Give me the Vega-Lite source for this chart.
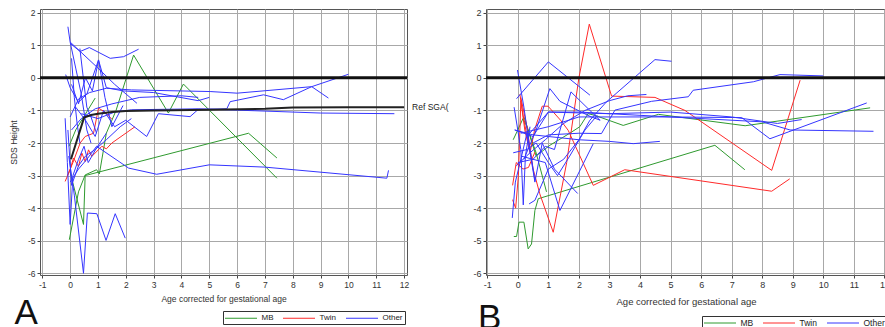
{
  "$schema": "https://vega.github.io/schema/vega-lite/v6.json",
  "padding": {"left": 8, "top": 8, "right": 0, "bottom": 0},
  "config": {
    "font": "Liberation Sans",
    "view": {"stroke": "#555", "strokeWidth": 1},
    "axis": {"grid": true, "gridColor": "#a8a8a8", "gridWidth": 1, "domain": false, "tickSize": 3, "tickColor": "#444", "labelColor": "#333", "titleColor": "#333", "titleFontWeight": "normal", "labelPadding": 2, "labelFlush": false, "labelOverlap": false, "labelExpr": "'' + datum.value"}
  },
  "datasets": {
    "a": [
      {"id":"g1","g":"MB","x":0.0,"y":-2.9},{"id":"g1","g":"MB","x":0.48,"y":-4.5},{"id":"g1","g":"MB","x":0.54,"y":-3.0},{"id":"g1","g":"MB","x":6.41,"y":-1.7},{"id":"g1","g":"MB","x":7.43,"y":-2.46},
      {"id":"g2","g":"MB","x":-0.03,"y":-4.97},{"id":"g2","g":"MB","x":0.3,"y":-3.5},{"id":"g2","g":"MB","x":0.54,"y":-2.98},{"id":"g2","g":"MB","x":0.95,"y":-2.82},{"id":"g2","g":"MB","x":1.05,"y":-2.95},{"id":"g2","g":"MB","x":1.3,"y":-1.7},{"id":"g2","g":"MB","x":1.65,"y":-1.0},{"id":"g2","g":"MB","x":2.0,"y":-0.05},{"id":"g2","g":"MB","x":2.28,"y":0.7},{"id":"g2","g":"MB","x":3.53,"y":-1.08},{"id":"g2","g":"MB","x":4.07,"y":-0.19},{"id":"g2","g":"MB","x":7.43,"y":-3.08},
      {"id":"g3","g":"MB","x":-0.04,"y":-2.1},{"id":"g3","g":"MB","x":0.2,"y":-1.6},{"id":"g3","g":"MB","x":0.9,"y":-0.62},
      {"id":"r1","g":"Twin","x":-0.18,"y":-3.18},{"id":"r1","g":"Twin","x":0.0,"y":-2.82},{"id":"r1","g":"Twin","x":0.12,"y":-2.46},{"id":"r1","g":"Twin","x":0.3,"y":-2.72},{"id":"r1","g":"Twin","x":0.42,"y":-2.31},{"id":"r1","g":"Twin","x":0.54,"y":-2.57},{"id":"r1","g":"Twin","x":0.66,"y":-2.21},{"id":"r1","g":"Twin","x":0.78,"y":-2.41},{"id":"r1","g":"Twin","x":1.14,"y":-2.1},{"id":"r1","g":"Twin","x":1.3,"y":-2.18},{"id":"r1","g":"Twin","x":1.5,"y":-2.0},{"id":"r1","g":"Twin","x":2.33,"y":-1.5},
      {"id":"r2","g":"Twin","x":-0.1,"y":-3.0},{"id":"r2","g":"Twin","x":0.1,"y":-2.6},{"id":"r2","g":"Twin","x":0.36,"y":-2.0},{"id":"r2","g":"Twin","x":0.54,"y":-1.8},{"id":"r2","g":"Twin","x":0.84,"y":-1.7},{"id":"r2","g":"Twin","x":1.02,"y":-0.93},{"id":"r2","g":"Twin","x":1.25,"y":-1.05},{"id":"r2","g":"Twin","x":1.5,"y":-1.27},
      {"id":"b1","g":"Other","x":-0.08,"y":1.57},{"id":"b1","g":"Other","x":0.0,"y":1.1},{"id":"b1","g":"Other","x":0.2,"y":0.3},{"id":"b1","g":"Other","x":0.4,"y":-0.5},{"id":"b1","g":"Other","x":0.6,"y":-1.6},{"id":"b1","g":"Other","x":0.75,"y":-2.0},
      {"id":"b2","g":"Other","x":0.0,"y":1.06},{"id":"b2","g":"Other","x":0.36,"y":0.81},{"id":"b2","g":"Other","x":0.69,"y":0.93},{"id":"b2","g":"Other","x":1.44,"y":0.6},{"id":"b2","g":"Other","x":1.92,"y":0.65},{"id":"b2","g":"Other","x":2.46,"y":0.88},
      {"id":"b3","g":"Other","x":0.0,"y":1.1},{"id":"b3","g":"Other","x":1.0,"y":0.3},{"id":"b3","g":"Other","x":1.6,"y":-0.2},{"id":"b3","g":"Other","x":2.4,"y":-0.78},
      {"id":"b4","g":"Other","x":-0.16,"y":0.1},{"id":"b4","g":"Other","x":0.0,"y":-0.3},{"id":"b4","g":"Other","x":0.3,"y":-0.75},{"id":"b4","g":"Other","x":0.6,"y":-0.5},{"id":"b4","g":"Other","x":1.02,"y":0.55},{"id":"b4","g":"Other","x":1.3,"y":-0.3},{"id":"b4","g":"Other","x":1.9,"y":-0.4},{"id":"b4","g":"Other","x":3.0,"y":-0.45},{"id":"b4","g":"Other","x":4.6,"y":-0.7},{"id":"b4","g":"Other","x":5.0,"y":-0.6},
      {"id":"b5","g":"Other","x":0.0,"y":-1.2},{"id":"b5","g":"Other","x":0.3,"y":-0.65},{"id":"b5","g":"Other","x":0.7,"y":-0.45},{"id":"b5","g":"Other","x":1.3,"y":-0.32},{"id":"b5","g":"Other","x":2.2,"y":-0.37},{"id":"b5","g":"Other","x":5.03,"y":-0.42},{"id":"b5","g":"Other","x":6.0,"y":-0.47},{"id":"b5","g":"Other","x":8.68,"y":-0.27},{"id":"b5","g":"Other","x":9.28,"y":-0.62},
      {"id":"b6","g":"Other","x":0.05,"y":-1.6},{"id":"b6","g":"Other","x":0.4,"y":-1.25},{"id":"b6","g":"Other","x":0.9,"y":-0.95},{"id":"b6","g":"Other","x":1.5,"y":-0.8},{"id":"b6","g":"Other","x":2.5,"y":-0.6},{"id":"b6","g":"Other","x":4.0,"y":-0.55},{"id":"b6","g":"Other","x":4.6,"y":-0.6},
      {"id":"b7","g":"Other","x":0.2,"y":-0.9},{"id":"b7","g":"Other","x":0.55,"y":-1.3},{"id":"b7","g":"Other","x":0.9,"y":-1.8},{"id":"b7","g":"Other","x":1.2,"y":-1.0},{"id":"b7","g":"Other","x":1.6,"y":-1.5},{"id":"b7","g":"Other","x":2.0,"y":-1.3},{"id":"b7","g":"Other","x":2.75,"y":-1.8},{"id":"b7","g":"Other","x":3.17,"y":-1.1},{"id":"b7","g":"Other","x":4.31,"y":-1.19},{"id":"b7","g":"Other","x":4.6,"y":-0.97},{"id":"b7","g":"Other","x":5.63,"y":-0.95},{"id":"b7","g":"Other","x":5.75,"y":-0.73},{"id":"b7","g":"Other","x":6.95,"y":-0.52},{"id":"b7","g":"Other","x":7.66,"y":-0.67},{"id":"b7","g":"Other","x":8.68,"y":-0.27},{"id":"b7","g":"Other","x":10.0,"y":0.11},
      {"id":"b8","g":"Other","x":0.4,"y":-1.1},{"id":"b8","g":"Other","x":1.0,"y":-1.25},{"id":"b8","g":"Other","x":1.6,"y":-1.05},{"id":"b8","g":"Other","x":2.2,"y":-0.98},{"id":"b8","g":"Other","x":4.6,"y":-0.95},{"id":"b8","g":"Other","x":7.0,"y":-1.02},{"id":"b8","g":"Other","x":9.0,"y":-1.08},{"id":"b8","g":"Other","x":11.65,"y":-1.1},
      {"id":"b9","g":"Other","x":0.0,"y":-3.2},{"id":"b9","g":"Other","x":0.3,"y":-2.8},{"id":"b9","g":"Other","x":0.6,"y":-2.5},{"id":"b9","g":"Other","x":0.95,"y":-2.1},{"id":"b9","g":"Other","x":2.1,"y":-2.77},{"id":"b9","g":"Other","x":3.11,"y":-2.96},{"id":"b9","g":"Other","x":5.0,"y":-2.67},{"id":"b9","g":"Other","x":7.0,"y":-2.74},{"id":"b9","g":"Other","x":11.38,"y":-3.08},{"id":"b9","g":"Other","x":11.44,"y":-2.84},
      {"id":"b10","g":"Other","x":-0.05,"y":-2.4},{"id":"b10","g":"Other","x":0.15,"y":-3.6},{"id":"b10","g":"Other","x":0.48,"y":-6.0},{"id":"b10","g":"Other","x":0.62,"y":-4.15},{"id":"b10","g":"Other","x":0.96,"y":-4.17},{"id":"b10","g":"Other","x":1.29,"y":-4.99},{"id":"b10","g":"Other","x":1.62,"y":-4.17},{"id":"b10","g":"Other","x":1.98,"y":-4.92},
      {"id":"b11","g":"Other","x":-0.18,"y":-1.24},{"id":"b11","g":"Other","x":-0.1,"y":-2.6},{"id":"b11","g":"Other","x":0.0,"y":-4.5},{"id":"b11","g":"Other","x":0.1,"y":-3.0},{"id":"b11","g":"Other","x":0.3,"y":-2.5},{"id":"b11","g":"Other","x":0.5,"y":-2.1},{"id":"b11","g":"Other","x":0.65,"y":-2.6},{"id":"b11","g":"Other","x":0.95,"y":-2.15},{"id":"b11","g":"Other","x":1.3,"y":-1.7},
      {"id":"b12","g":"Other","x":-0.08,"y":-1.6},{"id":"b12","g":"Other","x":0.05,"y":-3.3},{"id":"b12","g":"Other","x":0.3,"y":-2.7},{"id":"b12","g":"Other","x":0.55,"y":-2.4},{"id":"b12","g":"Other","x":0.9,"y":-2.2},{"id":"b12","g":"Other","x":1.3,"y":-1.9},{"id":"b12","g":"Other","x":1.8,"y":-1.5},{"id":"b12","g":"Other","x":2.2,"y":-1.25},
      {"id":"b13","g":"Other","x":0.05,"y":-0.2},{"id":"b13","g":"Other","x":0.3,"y":-0.8},{"id":"b13","g":"Other","x":0.55,"y":0.0},{"id":"b13","g":"Other","x":0.8,"y":-0.4},{"id":"b13","g":"Other","x":1.02,"y":0.55},{"id":"b13","g":"Other","x":1.25,"y":-0.6},{"id":"b13","g":"Other","x":1.5,"y":-1.5},{"id":"b13","g":"Other","x":1.9,"y":-0.85},
      {"id":"b14","g":"Other","x":0.05,"y":0.6},{"id":"b14","g":"Other","x":0.15,"y":-0.6},{"id":"b14","g":"Other","x":0.25,"y":-1.4},{"id":"b14","g":"Other","x":0.35,"y":-2.0},
      {"id":"b15","g":"Other","x":0.35,"y":0.9},{"id":"b15","g":"Other","x":0.5,"y":-0.2},{"id":"b15","g":"Other","x":0.6,"y":-0.9},{"id":"b15","g":"Other","x":0.75,"y":-1.2},{"id":"b15","g":"Other","x":0.95,"y":-1.7}
    ],
    "refA": [
      {"x":0.03,"y":-2.5},{"x":0.5,"y":-1.22},{"x":0.75,"y":-1.14},{"x":1.0,"y":-1.1},{"x":1.5,"y":-1.05},{"x":2.0,"y":-1.02},{"x":3.0,"y":-1.0},{"x":5.0,"y":-0.98},{"x":7.0,"y":-0.95},{"x":8.0,"y":-0.91},{"x":10.0,"y":-0.9},{"x":12.0,"y":-0.9}
    ],
    "b": [
      {"id":"g1","g":"MB","x":-0.13,"y":-4.87},{"id":"g1","g":"MB","x":-0.04,"y":-4.87},{"id":"g1","g":"MB","x":0.04,"y":-4.43},{"id":"g1","g":"MB","x":0.2,"y":-4.43},{"id":"g1","g":"MB","x":0.34,"y":-5.25},{"id":"g1","g":"MB","x":0.45,"y":-5.1},{"id":"g1","g":"MB","x":0.56,"y":-4.07},{"id":"g1","g":"MB","x":0.67,"y":-3.71},{"id":"g1","g":"MB","x":6.45,"y":-2.07},{"id":"g1","g":"MB","x":7.43,"y":-2.82},
      {"id":"g2","g":"MB","x":-0.15,"y":-1.9},{"id":"g2","g":"MB","x":0.0,"y":-1.6},{"id":"g2","g":"MB","x":0.17,"y":-1.25},{"id":"g2","g":"MB","x":0.3,"y":-1.5},{"id":"g2","g":"MB","x":0.6,"y":-2.4},{"id":"g2","g":"MB","x":1.05,"y":-2.07},{"id":"g2","g":"MB","x":1.7,"y":-1.7},{"id":"g2","g":"MB","x":2.03,"y":-1.5},{"id":"g2","g":"MB","x":2.3,"y":-1.1},{"id":"g2","g":"MB","x":2.52,"y":-1.15},{"id":"g2","g":"MB","x":3.45,"y":-1.46},{"id":"g2","g":"MB","x":4.6,"y":-1.12},{"id":"g2","g":"MB","x":7.44,"y":-1.47},{"id":"g2","g":"MB","x":11.53,"y":-0.92},
      {"id":"g3","g":"MB","x":0.2,"y":-1.2},{"id":"g3","g":"MB","x":0.45,"y":-1.9},{"id":"g3","g":"MB","x":0.6,"y":-2.3},{"id":"g3","g":"MB","x":0.94,"y":-3.5},
      {"id":"r1","g":"Twin","x":0.1,"y":-0.6},{"id":"r1","g":"Twin","x":0.3,"y":-1.5},{"id":"r1","g":"Twin","x":0.5,"y":-2.79},{"id":"r1","g":"Twin","x":0.72,"y":-3.56},{"id":"r1","g":"Twin","x":1.16,"y":-4.74},{"id":"r1","g":"Twin","x":1.6,"y":-2.6},{"id":"r1","g":"Twin","x":2.0,"y":0.0},{"id":"r1","g":"Twin","x":2.34,"y":1.65},{"id":"r1","g":"Twin","x":3.07,"y":-0.56},{"id":"r1","g":"Twin","x":4.49,"y":-0.6},{"id":"r1","g":"Twin","x":5.47,"y":-1.0},{"id":"r1","g":"Twin","x":8.31,"y":-2.84},{"id":"r1","g":"Twin","x":9.24,"y":-0.07},
      {"id":"r2","g":"Twin","x":0.07,"y":-0.5},{"id":"r2","g":"Twin","x":0.23,"y":-1.6},{"id":"r2","g":"Twin","x":0.4,"y":-2.3},{"id":"r2","g":"Twin","x":0.55,"y":-1.6},{"id":"r2","g":"Twin","x":0.8,"y":-0.87},{"id":"r2","g":"Twin","x":0.99,"y":-0.87},{"id":"r2","g":"Twin","x":1.4,"y":-1.3},{"id":"r2","g":"Twin","x":1.65,"y":-1.61},{"id":"r2","g":"Twin","x":2.47,"y":-3.3},{"id":"r2","g":"Twin","x":3.5,"y":-2.82},{"id":"r2","g":"Twin","x":8.31,"y":-3.48},{"id":"r2","g":"Twin","x":8.9,"y":-3.1},
      {"id":"r3","g":"Twin","x":-0.17,"y":-3.3},{"id":"r3","g":"Twin","x":-0.05,"y":-2.6},{"id":"r3","g":"Twin","x":0.17,"y":-2.8},{"id":"r3","g":"Twin","x":0.35,"y":-2.75},{"id":"r3","g":"Twin","x":0.56,"y":-2.28},
      {"id":"r4","g":"Twin","x":-0.17,"y":-3.74},{"id":"r4","g":"Twin","x":-0.07,"y":-4.0},{"id":"r4","g":"Twin","x":0.02,"y":-3.0},{"id":"r4","g":"Twin","x":0.1,"y":-0.7},{"id":"r4","g":"Twin","x":0.2,"y":-1.3},{"id":"r4","g":"Twin","x":0.35,"y":-2.0},
      {"id":"b1","g":"Other","x":-0.01,"y":0.24},{"id":"b1","g":"Other","x":0.2,"y":-0.9},{"id":"b1","g":"Other","x":0.4,"y":-2.2},{"id":"b1","g":"Other","x":0.56,"y":-3.15},
      {"id":"b2","g":"Other","x":-0.04,"y":-0.64},{"id":"b2","g":"Other","x":1.0,"y":0.49},{"id":"b2","g":"Other","x":2.36,"y":-0.53},
      {"id":"b3","g":"Other","x":-0.12,"y":-0.9},{"id":"b3","g":"Other","x":0.0,"y":-1.6},{"id":"b3","g":"Other","x":0.1,"y":-2.2},{"id":"b3","g":"Other","x":0.18,"y":-3.9},{"id":"b3","g":"Other","x":0.25,"y":-2.4},{"id":"b3","g":"Other","x":0.4,"y":-1.5},
      {"id":"b4","g":"Other","x":0.37,"y":-3.87},{"id":"b4","g":"Other","x":0.56,"y":-3.76},{"id":"b4","g":"Other","x":1.0,"y":-2.8},{"id":"b4","g":"Other","x":1.5,"y":-2.5},{"id":"b4","g":"Other","x":2.0,"y":-1.9},{"id":"b4","g":"Other","x":2.36,"y":-1.3},{"id":"b4","g":"Other","x":2.9,"y":-0.74},{"id":"b4","g":"Other","x":3.78,"y":-0.02},{"id":"b4","g":"Other","x":4.49,"y":0.56},{"id":"b4","g":"Other","x":5.03,"y":0.51},
      {"id":"b5","g":"Other","x":0.5,"y":-2.0},{"id":"b5","g":"Other","x":1.0,"y":-1.75},{"id":"b5","g":"Other","x":2.0,"y":-1.7},{"id":"b5","g":"Other","x":2.74,"y":-1.71},{"id":"b5","g":"Other","x":3.18,"y":-0.99},{"id":"b5","g":"Other","x":4.38,"y":-0.72},{"id":"b5","g":"Other","x":5.58,"y":-0.58},{"id":"b5","g":"Other","x":5.74,"y":-0.38},{"id":"b5","g":"Other","x":7.71,"y":-0.12},{"id":"b5","g":"Other","x":8.58,"y":0.1},{"id":"b5","g":"Other","x":10.0,"y":0.06},
      {"id":"b6","g":"Other","x":0.1,"y":-1.7},{"id":"b6","g":"Other","x":1.0,"y":-1.5},{"id":"b6","g":"Other","x":2.0,"y":-1.2},{"id":"b6","g":"Other","x":3.0,"y":-1.2},{"id":"b6","g":"Other","x":5.0,"y":-1.2},{"id":"b6","g":"Other","x":7.33,"y":-1.22},{"id":"b6","g":"Other","x":8.25,"y":-1.87},{"id":"b6","g":"Other","x":11.42,"y":-0.77},
      {"id":"b7","g":"Other","x":-0.1,"y":-1.6},{"id":"b7","g":"Other","x":0.5,"y":-1.8},{"id":"b7","g":"Other","x":1.0,"y":-1.05},{"id":"b7","g":"Other","x":2.0,"y":-1.05},{"id":"b7","g":"Other","x":4.0,"y":-1.15},{"id":"b7","g":"Other","x":6.0,"y":-1.25},{"id":"b7","g":"Other","x":8.0,"y":-1.35},{"id":"b7","g":"Other","x":8.91,"y":-1.6},{"id":"b7","g":"Other","x":11.64,"y":-1.64},
      {"id":"b8","g":"Other","x":0.3,"y":-1.8},{"id":"b8","g":"Other","x":1.0,"y":-1.05},{"id":"b8","g":"Other","x":3.0,"y":-1.1},{"id":"b8","g":"Other","x":5.0,"y":-1.05},{"id":"b8","g":"Other","x":7.0,"y":-1.2},{"id":"b8","g":"Other","x":8.5,"y":-1.4},{"id":"b8","g":"Other","x":9.29,"y":-1.28},
      {"id":"b9","g":"Other","x":-0.1,"y":-1.6},{"id":"b9","g":"Other","x":0.5,"y":-1.75},{"id":"b9","g":"Other","x":1.0,"y":-1.8},{"id":"b9","g":"Other","x":2.0,"y":-1.9},{"id":"b9","g":"Other","x":3.0,"y":-1.95},{"id":"b9","g":"Other","x":3.78,"y":-2.02},{"id":"b9","g":"Other","x":4.65,"y":-1.95},
      {"id":"b10","g":"Other","x":0.2,"y":-2.5},{"id":"b10","g":"Other","x":0.6,"y":-1.6},{"id":"b10","g":"Other","x":1.05,"y":-0.33},{"id":"b10","g":"Other","x":1.38,"y":-0.72},{"id":"b10","g":"Other","x":2.4,"y":-1.2},{"id":"b10","g":"Other","x":2.7,"y":-1.3},
      {"id":"b11","g":"Other","x":0.0,"y":-2.6},{"id":"b11","g":"Other","x":0.5,"y":-2.5},{"id":"b11","g":"Other","x":0.9,"y":-2.1},{"id":"b11","g":"Other","x":1.2,"y":-2.2},{"id":"b11","g":"Other","x":1.74,"y":-0.43},{"id":"b11","g":"Other","x":2.47,"y":-1.1},{"id":"b11","g":"Other","x":2.69,"y":-1.3},
      {"id":"b12","g":"Other","x":0.1,"y":-2.4},{"id":"b12","g":"Other","x":0.9,"y":-2.6},{"id":"b12","g":"Other","x":1.38,"y":-4.07},{"id":"b12","g":"Other","x":2.47,"y":-2.02},
      {"id":"b13","g":"Other","x":-0.18,"y":-4.3},{"id":"b13","g":"Other","x":-0.08,"y":-3.2},{"id":"b13","g":"Other","x":0.1,"y":-2.5},{"id":"b13","g":"Other","x":0.3,"y":-1.7},{"id":"b13","g":"Other","x":0.56,"y":-3.2},{"id":"b13","g":"Other","x":0.8,"y":-2.0},{"id":"b13","g":"Other","x":1.2,"y":-2.8},{"id":"b13","g":"Other","x":1.96,"y":-3.55},
      {"id":"b14","g":"Other","x":-0.15,"y":-2.3},{"id":"b14","g":"Other","x":0.3,"y":-2.2},{"id":"b14","g":"Other","x":0.6,"y":-2.0},{"id":"b14","g":"Other","x":1.0,"y":-2.6},{"id":"b14","g":"Other","x":1.3,"y":-3.0},{"id":"b14","g":"Other","x":1.7,"y":-2.4},{"id":"b14","g":"Other","x":2.2,"y":-1.6},{"id":"b14","g":"Other","x":2.6,"y":-1.15},
      {"id":"b15","g":"Other","x":-0.05,"y":-2.7},{"id":"b15","g":"Other","x":0.4,"y":-2.3},{"id":"b15","g":"Other","x":0.9,"y":-1.9},{"id":"b15","g":"Other","x":1.5,"y":-1.4},{"id":"b15","g":"Other","x":2.2,"y":-1.0},{"id":"b15","g":"Other","x":3.0,"y":-0.7},{"id":"b15","g":"Other","x":3.6,"y":-0.55},{"id":"b15","g":"Other","x":4.21,"y":-0.51}
    ]
  },
  "hconcat": [
    {
      "width": 367, "height": 266,
      "title": {"text": "A", "orient": "bottom", "anchor": "start", "fontSize": 35, "fontWeight": "normal", "color": "#111", "offset": -29, "dx": 5},
      "layer": [
        {
          "data": {"name": "a"},
          "mark": {"type": "line", "strokeWidth": 1},
          "encoding": {
            "x": {"field": "x", "type": "quantitative", "title": "Age corrected for gestational age", "scale": {"domain": [-1.083, 12.104], "nice": false, "zero": false}, "axis": {"values": [-1,0,1,2,3,4,5,6,7,8,9,10,11,12], "labelFontSize": 8.5, "titleFontSize": 8.5, "titlePadding": 6}},
            "y": {"field": "y", "type": "quantitative", "title": "SDS Height", "scale": {"domain": [-6.052, 2.114], "nice": false, "zero": false}, "axis": {"values": [-6,-5,-4,-3,-2,-1,0,1,2], "labelFontSize": 8.5, "titleFontSize": 8.5, "titlePadding": 9}},
            "detail": {"field": "id"},
            "order": {"value": null},
            "color": {"field": "g", "type": "nominal", "scale": {"domain": ["MB", "Twin", "Other"], "range": ["#2f9a2f", "#ff2a2a", "#3535ff"]},
              "legend": {"orient": "none", "legendX": 183, "legendY": 302, "direction": "horizontal", "title": null, "symbolType": "M-3.2,0H3.2", "symbolSize": 100, "symbolStrokeWidth": 1, "symbolOffset": 11, "labelOffset": 15, "labelFontSize": 8, "labelColor": "#222", "columnPadding": 7, "strokeColor": "#333", "padding": 1.5}}
          }
        },
        {
          "data": {"values": [{"y": 0}]},
          "mark": {"type": "rule", "strokeWidth": 3, "color": "#111"},
          "encoding": {"y": {"field": "y", "type": "quantitative", "title": "SDS Height", "axis": {"values": [-6,-5,-4,-3,-2,-1,0,1,2], "labelFontSize": 8.5, "titleFontSize": 8.5, "titlePadding": 9}}}
        },
        {
          "data": {"name": "refA"},
          "mark": {"type": "line", "strokeWidth": 2, "color": "#222"},
          "encoding": {
            "x": {"field": "x", "type": "quantitative", "title": "Age corrected for gestational age", "axis": {"values": [-1,0,1,2,3,4,5,6,7,8,9,10,11,12], "labelFontSize": 8.5, "titleFontSize": 8.5, "titlePadding": 6}},
            "y": {"field": "y", "type": "quantitative", "title": "SDS Height", "axis": {"values": [-6,-5,-4,-3,-2,-1,0,1,2], "labelFontSize": 8.5, "titleFontSize": 8.5, "titlePadding": 9}}
          }
        },
        {
          "data": {"values": [{"x": 12, "y": -0.9, "t": "Ref SGA("}]},
          "mark": {"type": "text", "align": "left", "baseline": "middle", "dx": 8, "fontSize": 8.5, "color": "#222"},
          "encoding": {
            "x": {"field": "x", "type": "quantitative", "title": "Age corrected for gestational age", "axis": {"values": [-1,0,1,2,3,4,5,6,7,8,9,10,11,12], "labelFontSize": 8.5, "titleFontSize": 8.5, "titlePadding": 6}},
            "y": {"field": "y", "type": "quantitative", "title": "SDS Height", "axis": {"values": [-6,-5,-4,-3,-2,-1,0,1,2], "labelFontSize": 8.5, "titleFontSize": 8.5, "titlePadding": 9}},
            "text": {"field": "t"}
          }
        }
      ]
    },
    {
      "width": 400, "height": 266,
      "title": {"text": "B", "orient": "bottom", "anchor": "start", "fontSize": 35, "fontWeight": "normal", "color": "#111", "offset": -29, "dx": 5},
      "layer": [
        {
          "data": {"name": "b"},
          "mark": {"type": "line", "strokeWidth": 1},
          "encoding": {
            "x": {"field": "x", "type": "quantitative", "title": "Age corrected for gestational age", "scale": {"domain": [-1.04, 12.05], "nice": false, "zero": false}, "axis": {"values": [-1,0,1,2,3,4,5,6,7,8,9,10,11,12], "labelFontSize": 9, "titleFontSize": 9.5, "titlePadding": 7}},
            "y": {"field": "y", "type": "quantitative", "title": null, "scale": {"domain": [-6.052, 2.114], "nice": false, "zero": false}, "axis": {"values": [-6,-5,-4,-3,-2,-1,0,1,2], "title": null, "labelFontSize": 9}},
            "detail": {"field": "id"},
            "order": {"value": null},
            "color": {"field": "g", "type": "nominal", "scale": {"domain": ["MB", "Twin", "Other"], "range": ["#2f9a2f", "#ff2a2a", "#3535ff"]},
              "legend": {"orient": "none", "legendX": 216, "legendY": 307, "direction": "horizontal", "title": null, "symbolType": "M-3.2,0H3.2", "symbolSize": 100, "symbolStrokeWidth": 1, "symbolOffset": 11, "labelOffset": 15, "labelFontSize": 8.5, "labelColor": "#222", "columnPadding": 7, "strokeColor": "#333", "padding": 1.5}}
          }
        },
        {
          "data": {"values": [{"y": 0}]},
          "mark": {"type": "rule", "strokeWidth": 3, "color": "#111"},
          "encoding": {"y": {"field": "y", "type": "quantitative", "title": null, "axis": {"values": [-6,-5,-4,-3,-2,-1,0,1,2], "title": null, "labelFontSize": 9}}}
        }
      ]
    }
  ],
  "spacing": 79,
  "bounds": "flush",
  "resolve": {"legend": {"color": "independent"}}
}
